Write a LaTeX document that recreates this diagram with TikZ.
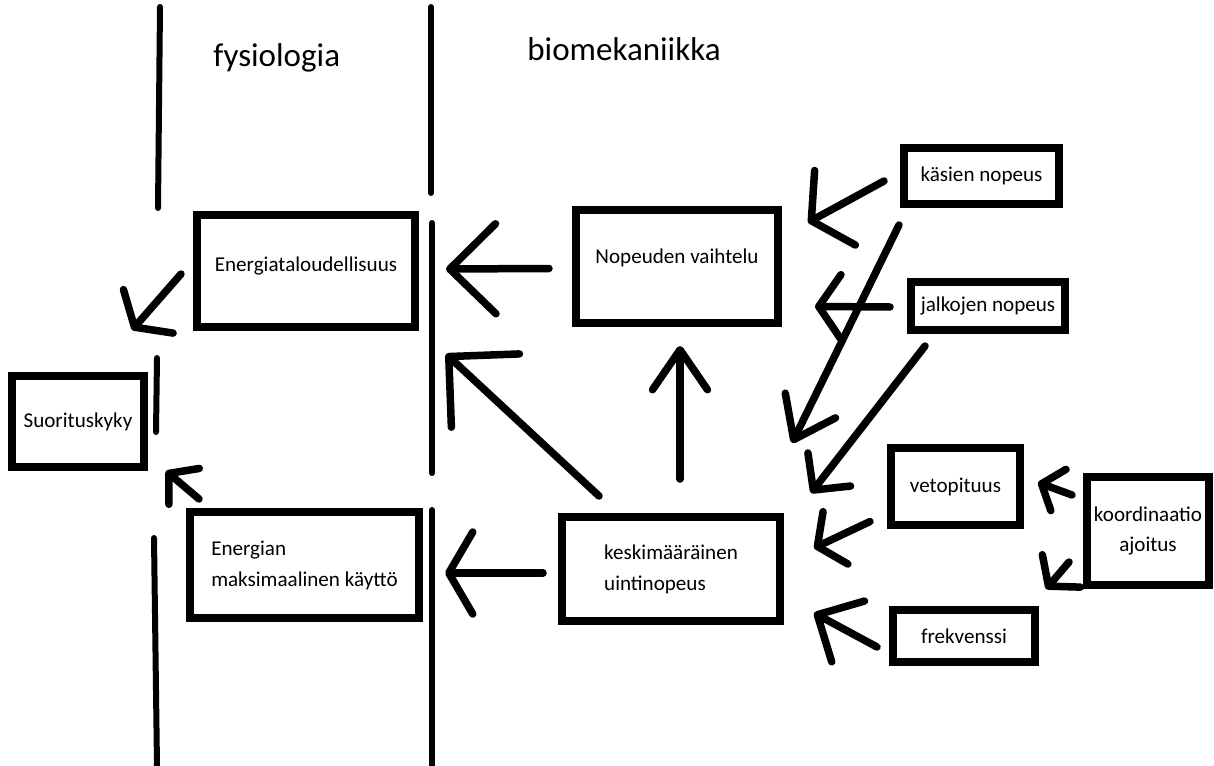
\documentclass[tikz,border=0pt]{standalone}
\usepackage{fontspec}
\setmainfont{Carlito}
\usetikzlibrary{arrows.meta}
\usetikzlibrary{calc}

\begin{document}
\begin{tikzpicture}[x=0.2mm, y=-0.2mm]
        % ================= 样式定义 =================
        \tikzset{
            % 方框节点
            box_node/.style={rectangle, draw=black, line width=1.6mm, fill=white, inner sep=2pt, font=\fontsize{12pt}{17.6pt}\selectfont},
            box_size/.style 2 args={minimum width=#1, minimum height=#2},
            % 标题文字
            title_text/.style={inner sep=0pt, font=\fontsize{18.8pt}{22pt}\selectfont},
            % 分隔竖线
            divider_line/.style={line width=1.2mm, line cap=round},
            % 手绘箭头 (箭头大小逐条给出)
            hand_arrow/.style 2 args={line width=1.5mm, line cap=round, -{Straight Barb[length=#1, width=#2, round]}}
        }

        \useasboundingbox (0,0) rectangle (1214,766);

        % ================= 分隔线 =================
        \draw[divider_line] (160,7) -- (158,208);
        \draw[divider_line] (157,358) -- (156,432);
        \draw[divider_line] (154,538) -- (157,766);
        \draw[divider_line] (431,7) -- (431,193);
        \draw[divider_line] (432,223) -- (432,473);
        \draw[divider_line] (432,510) -- (432,766);

        % ================= 标题 =================
        \node[title_text, anchor=base west] (fys) at (213,67) {fysiologia};
        \node[title_text, anchor=base west] (bio) at (527,61) {biomekaniikka};

        % ================= 方框 =================
        \node[box_node, box_size={43.6mm}{22.4mm}, text depth=2.85mm] (energia) at (306,271) {Energiataloudellisuus};
        \node[box_node, box_size={26.4mm}{18.2mm}] (suor) at (78,421.5) {Suorituskyky};
        \node[box_node, box_size={45.8mm}{21.2mm}, align=left] (maks) at (304.5,565) {Energian\\maksimaalinen käyttö};
        \node[box_node, box_size={40.4mm}{22.6mm}, text depth=4mm] (vaiht) at (677,266.5) {Nopeuden vaihtelu};
        \node[box_node, box_size={43.6mm}{20.8mm}, align=left] (uinti) at (671,569) {keskimääräinen\\uintinopeus};
        \node[box_node, box_size={31mm}{11.2mm}] (kasi) at (981.5,176) {käsien nopeus};
        \node[box_node, box_size={30.8mm}{9.6mm}] (jalka) at (988,306) {jalkojen nopeus};
        \node[box_node, box_size={25.8mm}{15.4mm}] (veto) at (955.5,486.5) {vetopituus};
        \node[box_node, box_size={24.4mm}{21.6mm}, align=center] (koord) at (1148,531) {koordinaatio\\ajoitus};
        \node[box_node, box_size={28.4mm}{10.4mm}] (frek) at (964,636) {frekvenssi};

        % ================= 箭头 =================
        % fysiologia 部分
        \draw[hand_arrow={4.2mm}{13.2mm}] ($(energia.west)+(-12,3)$) -- ($(suor.north east)+(-16,-42)$);
        \draw[hand_arrow={4mm}{9.4mm}] ($(maks.north west)+(13,-9)$) -- ($(suor.south east)+(18,0)$);

        % biomekaniikka -> fysiologia
        \draw[hand_arrow={9.2mm}{18mm}] ($(vaiht.west)+(-23,2)$) -- ($(energia.east)+(27,-2)$);
        \draw[hand_arrow={10mm}{20mm}] ($(uinti.north west)+(41,-17)$) -- ($(energia.south east)+(27,23)$);
        \draw[hand_arrow={4.8mm}{16.4mm}] ($(uinti.west)+(-15,4)$) -- ($(maks.east)+(22,8)$);
        \draw[hand_arrow={8mm}{11mm}] ($(uinti.north)+(9,-34)$) -- ($(vaiht.south)+(3,19)$);

        % 右侧因素
        \draw[hand_arrow={5.4mm}{17mm}] ($(kasi.west)+(-16,5)$) -- ($(vaiht.east)+(26,-44)$);
        \draw[hand_arrow={4.4mm}{12.8mm}] ($(jalka.west)+(-17,1)$) -- ($(vaiht.east)+(33,40)$);
        \draw[hand_arrow={7.6mm}{11.2mm}] ($(kasi.south west)+(-1,17)$) -- ($(uinti.north east)+(8,-70)$);
        \draw[hand_arrow={5.2mm}{10.8mm}] ($(jalka.south west)+(18,12)$) -- ($(uinti.north east)+(27,-20)$);
        \draw[hand_arrow={4mm}{11.6mm}] ($(veto.west)+(-17,35)$) -- ($(uinti.east)+(30,-21)$);
        \draw[hand_arrow={7mm}{13.8mm}] ($(frek.west)+(-12,11)$) -- ($(uinti.east)+(30,44)$);
        \draw[hand_arrow={3.6mm}{8.8mm}] ($(koord.west)+(-11,-36)$) -- ($(veto.east)+(14,-4)$);
        \draw[hand_arrow={4mm}{10mm}] ($(koord.west)+(-14,31)$) -- ($(frek.north east)+(7,-17)$);

    \end{tikzpicture}
\end{document}
